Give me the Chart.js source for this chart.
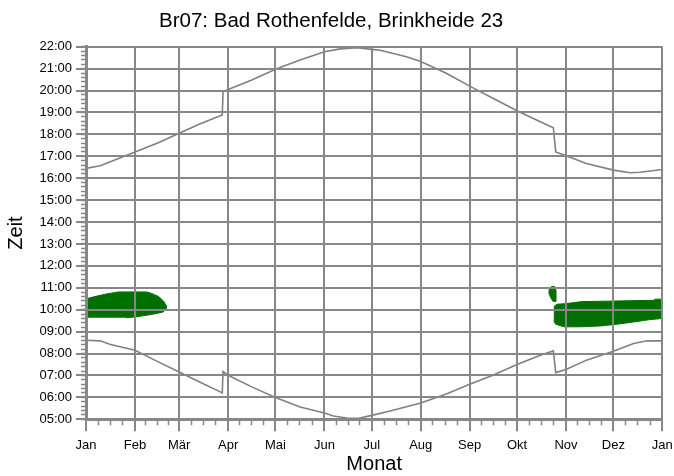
<!DOCTYPE html>
<html><head><meta charset="utf-8">
<script src="https://cdn.jsdelivr.net/npm/chart.js@4"></script>
<style>html,body{margin:0;padding:0;background:#fff}canvas{display:block}</style>
</head><body>
<canvas id="c" width="674" height="476"></canvas>
<script>
const chartTitle = 'Br07: Bad Rothenfelde, Brinkheide 23';
const monthLabels = ['Jan','Feb','Mär','Apr','Mai','Jun','Jul','Aug','Sep','Okt','Nov','Dez','Jan'];
const monthStartDays = [0,31,59,90,120,151,181,212,243,273,304,334,365];

const sunsetDays  = [0,9,19.4,31,45.8,59,72,85,86.3,86.8,90,105,120,135.6,151,161,172,181,186.3,203,212,228.5,243,258,273,287.7,296,297.5,304,317,334,344.7,351,365];
const sunsetHours = [16.45,16.57,16.86,17.2,17.62,18.05,18.47,18.85,18.88,19.95,20.05,20.48,20.97,21.39,21.77,21.9,21.95,21.88,21.84,21.54,21.32,20.78,20.2,19.64,19.08,18.58,18.3,17.2,17.02,16.67,16.37,16.25,16.27,16.4];

const sunriseDays  = [0,9,15,31,45.8,59,72,85,86.3,86.8,90,105,120,135.6,151,156.8,165,172,181,192.6,212,228.6,243,257.7,273,287.7,296,297.5,304,317,334,346.8,355.3,365];
const sunriseHours = [8.61,8.58,8.42,8.15,7.62,7.16,6.7,6.25,6.2,7.18,7.01,6.48,5.99,5.56,5.29,5.15,5.06,5.04,5.18,5.38,5.74,6.17,6.6,7.01,7.5,7.92,8.12,7.13,7.27,7.7,8.1,8.46,8.58,8.58];

const shadowWinterDays  = [0.8,0.8,5.7,13,20.5,38.5,41.6,46,49,50.7,50.7,49,44.8,38.5,31,25];
const shadowWinterHours = [9.63,10.51,10.6,10.72,10.81,10.81,10.74,10.6,10.4,10.2,10.05,9.9,9.83,9.75,9.67,9.63];

const shadowAutumnDays  = [296.6,296.6,298.3,304.6,314,330,359.5,360.6,364.8,364.8,357.4,346.8,336.3,325.7,313,303,300.4,297.2];
const shadowAutumnHours = [9.4,10.16,10.25,10.28,10.37,10.39,10.43,10.48,10.48,9.6,9.55,9.44,9.34,9.26,9.22,9.22,9.27,9.35];

const shadowSpotDays  = [294.6,296.8,297.5,297.5,295.8,294.3,293.2,293.4];
const shadowSpotHours = [11.06,11.06,10.9,10.38,10.38,10.55,10.75,10.95];

const GRID = '#878787';
const SUN = '#808080';
const GREEN = '#007000';
const FONT = 'Liberation Sans, Arial, sans-serif';

const zip = (xs, ys) => xs.map((x, i) => ({x, y: ys[i]}));

function lineSet(xs, ys) {
  return {data: zip(xs, ys), borderColor: SUN, borderWidth: 1.6, pointRadius: 0, fill: false, tension: 0};
}
function shadowSet(xs, ys) {
  return {data: zip(xs, ys), borderColor: GREEN, backgroundColor: GREEN, borderWidth: 1, pointRadius: 0, fill: 'shape', tension: 0};
}
function noPad(s) { s.paddingLeft = 0; s.paddingRight = 0; s.paddingTop = 0; s.paddingBottom = 0; }

new Chart(document.getElementById('c'), {
  type: 'line',
  data: {datasets: [
    shadowSet(shadowWinterDays, shadowWinterHours),
    shadowSet(shadowAutumnDays, shadowAutumnHours),
    shadowSet(shadowSpotDays, shadowSpotHours),
    lineSet(sunsetDays, sunsetHours),
    lineSet(sunriseDays, sunriseHours)
  ]},
  options: {
    responsive: false, animation: false, devicePixelRatio: 1,
    layout: {padding: {left: 0, right: 11.7, top: 0, bottom: 0}},
    plugins: {
      legend: {display: false}, tooltip: {enabled: false},
      title: {display: true, text: chartTitle, color: '#000',
        font: {family: FONT, size: 20.5, weight: 'normal'}, padding: {top: 9, bottom: 13.1}}
    },
    scales: {
      x: {type: 'linear', position: 'bottom', min: 0, max: 365, weight: 1,
        afterBuildTicks: s => { s.ticks = monthStartDays.map(v => ({value: v})); },
        afterFit: s => { s.height = 56.7; noPad(s); },
        ticks: {autoSkip: false, maxRotation: 0, color: '#000', padding: 6, z: 1,
          font: {family: FONT, size: 13}, callback: (v, i) => monthLabels[i]},
        grid: {color: GRID, lineWidth: 2, tickLength: 12, tickWidth: 2, tickColor: GRID, z: 1},
        border: {color: GRID, width: 3, z: 1},
        title: {display: true, text: 'Monat', color: '#000', font: {family: FONT, size: 20}, padding: {top: 0, bottom: 0}}
      },
      x2: {type: 'linear', position: 'bottom', min: 0, max: 365, weight: 0,
        afterBuildTicks: s => {
          const t = [];
          for (let m = 0; m < 12; m++) {
            const a = monthStartDays[m], b = monthStartDays[m + 1];
            for (let q = 1; q < 4; q++) t.push({value: a + q * (b - a) / 4});
          }
          s.ticks = t;
        },
        afterFit: s => { s.height = 0; noPad(s); },
        ticks: {display: false, autoSkip: false},
        grid: {drawOnChartArea: false, tickLength: 6, tickWidth: 1.5, tickColor: GRID, z: 1},
        border: {display: false}
      },
      y: {type: 'linear', position: 'left', min: 5, max: 22, weight: 1,
        afterBuildTicks: s => { const t = []; for (let h = 5; h <= 22; h++) t.push({value: h}); s.ticks = t; },
        afterFit: s => { s.width = 86; noPad(s); },
        ticks: {autoSkip: false, color: '#000', padding: 4, z: 1, font: {family: FONT, size: 13},
          callback: v => (v < 10 ? '0' : '') + v + ':00'},
        grid: {color: GRID, lineWidth: 2, tickLength: 10, tickWidth: 2, tickColor: GRID, z: 1},
        border: {color: GRID, width: 3, z: 1},
        title: {display: true, text: 'Zeit', color: '#000', font: {family: FONT, size: 20}, padding: {top: 4, bottom: 0}}
      },
      y2: {type: 'linear', position: 'left', min: 5, max: 22, weight: 0,
        afterBuildTicks: s => { const t = []; for (let k = 25; k <= 110; k++) t.push({value: k / 5}); s.ticks = t; },
        afterFit: s => { s.width = 0; noPad(s); },
        ticks: {display: false, autoSkip: false},
        grid: {drawOnChartArea: false, tickLength: 5, tickWidth: 1.5, tickColor: GRID, z: 1},
        border: {display: false}
      }
    }
  }
});
</script>
</body></html>
